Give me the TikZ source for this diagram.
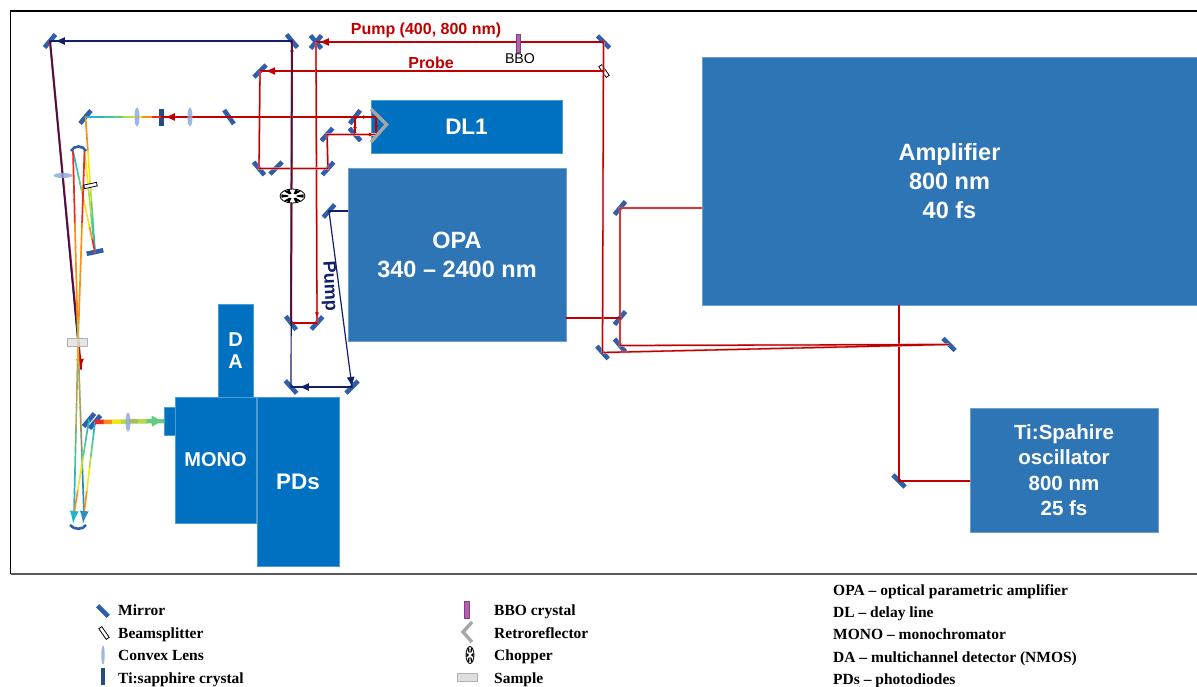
\documentclass[tikz,border=0pt]{standalone}
\usepackage{fontspec}
\setmainfont{Liberation Sans}
\newfontfamily\legendfont{Liberation Serif}
\usetikzlibrary{shapes.geometric,arrows.meta,positioning,calc,decorations.markings}
\definecolor{boxblue}{HTML}{2E75B6}
\definecolor{deepblue}{HTML}{0070C0}
\definecolor{mirrorblue}{HTML}{2F5FAA}
\definecolor{beamred}{HTML}{C00000}
\definecolor{beamnavy}{HTML}{12206A}
\definecolor{lensblue}{HTML}{8FAADC}
\definecolor{bbopurple}{HTML}{B45FB0}
\definecolor{rbred}{HTML}{EE2A24}
\definecolor{rborange}{HTML}{FA9014}
\definecolor{rbyellow}{HTML}{F2E61E}
\definecolor{rblime}{HTML}{B5DC46}
\definecolor{rbgreen}{HTML}{62CC80}
\definecolor{rbteal}{HTML}{40C4A6}
\definecolor{rbcyan}{HTML}{22B4D2}
\definecolor{rbsteel}{HTML}{2A8FBF}
\definecolor{rbgold}{HTML}{D8B030}
\definecolor{rbolive}{HTML}{A8A860}
\def\hotcold{rbred,rborange,rbyellow,rblime,rbgreen,rbteal,rbcyan,rbcyan}
\def\orangecold{rborange,rborange,rbyellow,rbyellow,rblime,rbgreen,rbteal,rbcyan}
\def\limecold{rblime,rbyellow,rbyellow,rblime,rblime,rbgreen,rbteal,rbcyan}
\def\coldhot{rbcyan,rbteal,rbgreen,rblime,rbyellow,rbyellow,rborange,rbred}
\def\redorange{rbred,rbred,rbred,rborange,rborange,rborange,rborange,rbgold}
\def\goldcyan{rbgold,rbolive,rbolive,rblime!60!gray,rbgreen!70!gray,rbteal,rbcyan,rbcyan}
\def\goldsteel{rbgold,rbolive,rbolive,rbolive!70!gray,rbolive!40!gray,rbteal!60!gray,rbsteel,rbsteel}
\def\heatup{rborange,rborange,rbyellow,rbyellow,rblime,rbgreen,rbteal,rbcyan}
\def\thickbeam{rbred,rborange,rbyellow,rblime,rblime!70!gray,rblime,rbgreen,rbgreen}
\newcommand{\spectrumbeam}[4][1.7pt]{%
  \foreach \colA [count=\n from 0] in #4
    \draw[line width=#1,draw=\colA] ($(#2)!{\n/8}!(#3)$) -- ($(#2)!{(\n+1.05)/8}!(#3)$);}
\begin{document}
\begin{tikzpicture}[x=1pt,y=-1pt,
  unit/.style={fill=boxblue,draw=boxblue!70!white,line width=.6pt,text=white,align=center,inner sep=0pt,
               font=\bfseries\fontsize{23.5}{29}\selectfont},
  stage/.style={unit,fill=deepblue,draw=deepblue!70!white,font=\bfseries\fontsize{22.5}{29}\selectfont},
  mirror/.style={fill=mirrorblue,minimum width=17pt,minimum height=4.6pt,inner sep=0pt,outer sep=0pt},
  splitter/.style={draw=black,fill=white,line width=.8pt,minimum width=13pt,minimum height=3.6pt,inner sep=0pt},
  lens/.style={ellipse,fill=lensblue,minimum width=5pt,minimum height=19pt,inner sep=0pt,fill opacity=.85},
  crystal/.style={fill=mirrorblue!80!black,minimum width=5pt,minimum height=17pt,inner sep=0pt},
  beam/.style={draw=beamred,line width=1.3pt,line cap=round,preaction={draw=beamred!30,line width=2.2pt}},
  navy/.style={draw=beamnavy,line width=1.2pt,line cap=round},
  tipat/.style={postaction={decorate,decoration={markings,mark=at position #1 with {\arrow{Latex[length=10pt,width=8pt]}}}}},
  minitip/.style={postaction={decorate,decoration={markings,mark=at position #1 with {\arrow{Latex[length=5pt,width=4pt]}}}}},
  label/.style={text=beamred,font=\bfseries\fontsize{16}{20}\selectfont,inner sep=0pt},
  legend/.style={anchor=west,inner sep=0pt,text height=10pt,text depth=3.4pt,font=\legendfont\bfseries\fontsize{15.5}{18}\selectfont},
  nextline/.style={below=8.9pt of #1.south west,anchor=north west},
  nextrow/.style={below=8.5pt of #1.south west,anchor=north west},
  retro/.style={draw=black!35,line width=3.4pt},
  chopper/.pic={
    \draw[black,fill=white,line width=.8pt] (0,0) circle (1);
    \foreach \a in {0,60,...,300}
      \fill[black] (\a-15:.34) -- (\a-15:.92) -- (\a+15:.92) -- (\a+15:.34) -- cycle;}]
\useasboundingbox (0,0) rectangle (1197,686);
\draw[black,line width=1.1pt] (1197,11) -- (10.5,11) -- (10.5,574);
\draw[black!65,line width=1.3pt] (10.5,574) -- (1197,574);

\node[unit,minimum width=495pt,minimum height=248pt] (amp) at (949.5,181) {Amplifier\\800 nm\\40 fs};
\node[unit,minimum width=218pt,minimum height=173pt] (opa) at (457,254.5) {OPA\\340 – 2400 nm};
\node[unit,minimum width=188pt,minimum height=124pt,font=\bfseries\fontsize{20.5}{25.5}\selectfont] (ti) at (1064,470) {Ti:Spahire\\oscillator\\800 nm\\25 fs};
\node[stage,minimum width=191pt,minimum height=53pt] (dl) at (466.5,126.5) {DL1};
\node[stage,minimum width=35pt,minimum height=93pt,font=\bfseries\fontsize{20}{22}\selectfont] (da) at (235.5,351) {D\\A};
\node[stage,minimum width=11pt,minimum height=28pt] (slit) at (169.5,421) {};
\node[stage,minimum width=81pt,minimum height=126pt,font=\bfseries\fontsize{20}{24}\selectfont] (mono) at (215.5,460) {MONO};
\node[stage,minimum width=82pt,minimum height=169pt] (pds) at (298,481.5) {PDs};

\node[mirror,rotate=50] (mtl) at (50,41) {};
\node[mirror,rotate=-50] (mtop) at (292,41) {};
\node[mirror,rotate=50] (mcrossa) at (316,42) {};
\node[mirror,rotate=-50] (mcrossb) at (316,42) {};
\node[mirror,rotate=-45] (mtr) at (603.5,42) {};
\node[mirror,rotate=45] (mprobe) at (260,71) {};
\node[mirror,rotate=50] (mfold) at (85.5,117) {};
\node[mirror,rotate=-55] (mline) at (229,117) {};
\node[mirror,rotate=-50] (mpa) at (259,168.5) {};
\node[mirror,rotate=45] (mpb) at (276,168) {};
\node[mirror,rotate=48] (mpc) at (328,168.5) {};
\node[mirror,rotate=48] (mpd) at (327,134.5) {};
\node[mirror,rotate=52] (mdla) at (355,117) {};
\node[mirror,rotate=-48] (mdlb) at (355,134.5) {};
\node[mirror,rotate=48] (mpump) at (329,211) {};
\node[mirror,rotate=-52] (mturn) at (291,323) {};
\node[mirror,rotate=48] (mret) at (317,323) {};
\node[mirror,rotate=-48] (mpdl) at (291,387) {};
\node[mirror,rotate=45] (mpdr) at (352,387) {};
\node[mirror,rotate=12] (mlow) at (95,252) {};
\node[mirror,rotate=50] (moa) at (89,420) {};
\node[mirror,rotate=50] (mob) at (95,422) {};
\node[mirror,rotate=50] (mamp) at (620,208) {};
\node[mirror,rotate=50] (mopa) at (620,318) {};
\node[mirror,rotate=-50] (mdrop) at (620,345.5) {};
\node[mirror,rotate=-48] (mback) at (602.5,352.5) {};
\node[mirror,rotate=-45] (mfar) at (949,344.5) {};
\node[mirror,rotate=-45] (mseed) at (899,481) {};
\node[splitter,rotate=-55] (bsplit) at (604,71) {};
\node[crystal] (tisa) at (161,117) {};

\coordinate (reta) at (376,117);
\coordinate (retb) at (376,134.5);
\coordinate (focus) at (78,343);
\coordinate (fall) at (81,369);
\coordinate (cta) at (73,151);
\coordinate (ctb) at (84.5,151);
\coordinate (cba) at (74,514);
\coordinate (cbb) at (84,514);
\coordinate (tipa) at (73,524);
\coordinate (tipb) at (83,524);

\draw[beam,line width=1.1pt] (ti.west |- mseed.center) -- (mseed.center) -- (mseed.center |- amp.south);
\draw[beam] (amp.west |- mamp.center) -- (mamp.center) -- (mopa.center) -- (mdrop.center) -- (mfar.center) -- (mback.center);
\draw[beam] (opa.east |- mopa.center) -- (mopa.center);
\draw[beam] (mback.center) -- (mtr.center);
\draw[beam,tipat=.99] (mtr.center) -- (mcrossa.center);
\draw[beam,tipat=.985] (bsplit.center) -- (mprobe.center);
\draw[beam,minitip=.98] (mcrossa.center) -- (mret.center);
\draw[beam] (mret.center) -- (mturn.center);
\draw[beam] (mprobe.center) -- (mpa.center) -- (mpc.center) -- (mpd.center) -- (retb);
\draw[beam,minitip=.72] (retb) -- (reta);
\draw[beam,minitip=.8] (reta) -- (mdla.center);
\draw[beam,minitip=.85] (mdla.center) -- (mdlb.center);
\draw[beam,minitip=.9] (mdlb.center) -- (retb);
\draw[beam,tipat=.98] (mdla.center) -- (tisa.center);
\draw[beam,line width=2pt,minitip=.98] (mturn.center) -- (mtop.center);
\draw[beam,line width=2pt] (mtop.center) -- (mtl.center);
\draw[beam,line width=2pt,tipat=1] (mtl.center) -- (fall);

\draw[navy] (opa.west |- mpump.center) -- (mpump.center);
\draw[navy,tipat=1] (mpump.center) -- (mpdr.center);
\draw[navy,tipat=.87] (mpdr.center) -- (mpdl.center);
\draw[navy] (mpdl.center) -- (mtop.center);
\draw[navy,tipat=.98] (mtop.center) -- (mtl.center);
\draw[navy] (mtl.center) -- (focus);

\spectrumbeam{tisa}{mfold}{\hotcold}
\spectrumbeam{mfold}{mlow}{\orangecold}
\spectrumbeam{ctb}{mlow}{\limecold}
\spectrumbeam{cta}{mlow}{\coldhot}
\spectrumbeam{cta}{focus}{\redorange}
\spectrumbeam{ctb}{focus}{\redorange}
\spectrumbeam{focus}{cba}{\goldcyan}
\spectrumbeam{focus}{cbb}{\goldsteel}
\spectrumbeam{cba}{moa}{\heatup}
\spectrumbeam{cbb}{mob}{\heatup}
\spectrumbeam[4.5pt]{mob}{slit.west}{\thickbeam}
\draw[draw=rbgreen,line width=3pt,-{Latex[length=12pt,width=12pt]}] ($(mob)!.8!(slit.west)$) -- (slit.west);
\draw[draw=rbcyan,line width=1.7pt,-{Latex[length=13pt,width=9pt]}] (cba) -- (tipa);
\draw[draw=rbsteel,line width=1.7pt,-{Latex[length=13pt,width=9pt]}] (cbb) -- (tipb);

\draw[mirrorblue,line width=2.6pt] (71,151) .. controls (74,145) and (83,145) .. (86,151);
\draw[mirrorblue,line width=2.6pt] (70,525) .. controls (74,530) and (83,530) .. (86,525);
\draw[retro] (371,109) -- (386.5,124.5) -- (371,142);
\node[lens] (lensa) at (190,117) {};
\node[lens] (lensb) at (137,117) {};
\node[lens] (lensc) at (128,422) {};
\node[lens,rotate=90] (lensd) at (63,175.5) {};
\node[splitter,rotate=12] (bsnear) at (90.5,185.5) {};
\node[draw=black!30,fill=black!13,minimum width=20pt,minimum height=8pt,inner sep=0pt,fill opacity=.8] (sample) at (77.5,342.5) {};
\node[draw=bbopurple!70!black,fill=bbopurple,minimum width=4.5pt,minimum height=18pt,inner sep=0pt] (bbo) at (518,43) {};
\pic[xscale=12.5,yscale=7] (chop) at (292.5,196) {chopper};

\node[label] (pumplbl) at (426,30) {Pump (400, 800 nm)};
\node[label] (probelbl) at (431,63) {Probe};
\node[inner sep=0pt,font=\fontsize{14.2}{16}\selectfont] (bbolbl) at (520,58.5) {BBO};
\node[inner sep=0pt,rotate=-87,text=beamnavy,font=\bfseries\fontsize{18}{20}\selectfont] (pumpv) at (329,286) {Pump};

\node[legend] (lgmirror) at (118,612) {Mirror};
\node[legend,nextline=lgmirror] (lgsplit) {Beamsplitter};
\node[legend,nextline=lgsplit] (lglens) {Convex Lens};
\node[legend,nextline=lglens] (lgti) {Ti:sapphire crystal};
\node[legend] (lgbbo) at (494,612) {BBO crystal};
\node[legend,nextline=lgbbo] (lgretro) {Retroreflector};
\node[legend,nextline=lgretro] (lgchop) {Chopper};
\node[legend,nextline=lgchop] (lgsample) {Sample};
\node[legend] (lgopa) at (833,592) {OPA – optical parametric amplifier};
\node[legend,nextrow=lgopa] (lgdl) {DL – delay line};
\node[legend,nextrow=lgdl] (lgmono) {MONO – monochromator};
\node[legend,nextrow=lgmono] (lgda) {DA – multichannel detector (NMOS)};
\node[legend,nextrow=lgda] (lgpd) {PDs – photodiodes};

\node[mirror,rotate=-45,minimum width=15pt] (kmirror) at (103,611) {};
\node[splitter,rotate=-55] (ksplit) at (104,633) {};
\node[lens,minimum width=3.5pt] (klens) at (103,655) {};
\node[crystal,minimum width=4pt] (kti) at (103,676) {};
\node[draw=bbopurple!70!black,fill=bbopurple,minimum width=5pt,minimum height=17pt,inner sep=0pt] (kbbo) at (466.5,610) {};
\draw[retro] (472,622) -- (463,632) -- (472,642);
\pic[xscale=4,yscale=8.5] (kchop) at (470,655) {chopper};
\node[draw=black!30,fill=black!13,minimum width=20pt,minimum height=8pt,inner sep=0pt] (ksample) at (467,677) {};
\end{tikzpicture}
\end{document}
